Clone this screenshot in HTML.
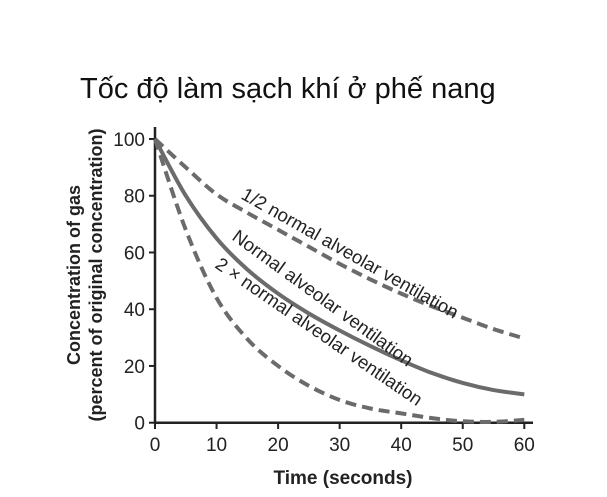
<!DOCTYPE html>
<html><head><meta charset="utf-8"><style>
body{margin:0;background:#fff;}
svg{display:block;font-family:"Liberation Sans",Arial,sans-serif;}
</style></head><body>
<svg id="c" width="607" height="497">
<text x="80" y="98" font-size="29" fill="#111">Tốc độ làm sạch khí ở phế nang</text>
</svg>
<script>
const times=[0,5,10,15,20,25,30,35,40,45,50,55,60];
const halfVent=[100,90,80.5,74,68,62,56,50.5,45.5,41,37,33,29.7];
const normalVent=[100,80,65,54,45.5,38.5,32.5,27,22,17.5,14,11.5,10];
const doubleVent=[100,68,44,29.5,20,13,8,5,3.3,1.6,0.5,0.3,1];
const xTicks=[0,10,20,30,40,50,60];
const yTicks=[0,20,40,60,80,100];
const NS='http://www.w3.org/2000/svg';
const svg=document.getElementById('c');
const X=v=>155+v*(369.3/60);
const Y=v=>422.7-v*(283.7/100);
function el(t,a,p){const e=document.createElementNS(NS,t);for(const k in a)e.setAttribute(k,a[k]);(p||svg).appendChild(e);return e;}
const ax=el('path',{d:`M155 127 V422.7 H533`,stroke:'#222','stroke-width':2.5,fill:'none'});


xTicks.forEach(t=>{
  const l=el('line',{x1:X(t),x2:X(t),y1:422.7,y2:429,stroke:'#222','stroke-width':2});
  
  
  const tx=el('text',{x:X(t),y:451,'font-size':19,'text-anchor':'middle',fill:'#222'});
  tx.textContent=t;
  
  
});
yTicks.forEach(t=>{
  const l=el('line',{x1:149,x2:155,y1:Y(t),y2:Y(t),stroke:'#222','stroke-width':2});
  
  
  const tx=el('text',{x:145,y:Y(t)+7,'font-size':19,'text-anchor':'end',fill:'#222'});
  tx.textContent=t;
  
  
});
function curve(vals,dash,name){
  const pts=times.map((t,i)=>[X(t),Y(vals[i])]);
  let d=`M${pts[0][0]},${pts[0][1]}`;
  for(let i=0;i<pts.length-1;i++){
    const p0=pts[i-1]||pts[i],p1=pts[i],p2=pts[i+1],p3=pts[i+2]||p2;
    const c1=[p1[0]+(p2[0]-p0[0])/6,p1[1]+(p2[1]-p0[1])/6];
    const c2=[p2[0]-(p3[0]-p1[0])/6,p2[1]-(p3[1]-p1[1])/6];
    d+=` C${c1[0]},${c1[1]} ${c2[0]},${c2[1]} ${p2[0]},${p2[1]}`;
  }
  const p=el('path',{d,stroke:'#6b6b6b','stroke-width':4,fill:'none'});
  if(dash)p.setAttribute('stroke-dasharray','11 6');
  
  
}
curve(halfVent,true,'half-ventilation-curve');
curve(normalVent,false,'normal-ventilation-curve');
curve(doubleVent,true,'double-ventilation-curve');
function lbl(x,y,a,s,name){
  const t=el('text',{x,y,'font-size':18.5,fill:'#222',transform:`rotate(${a} ${x} ${y})`});
  t.textContent=s;
  
  
}
lbl(240,198,29.5,'1/2 normal alveolar ventilation','half-ventilation-label');
lbl(231,239,36,'Normal alveolar ventilation','normal-ventilation-label');
lbl(214,267,34.5,'2 × normal alveolar ventilation','double-ventilation-label');
const xt=el('text',{x:343,y:484,'font-size':19,'font-weight':'bold','text-anchor':'middle',fill:'#222'});
xt.textContent='Time (seconds)';


const g=el('g',{transform:'translate(80,275) rotate(-90)'});
const y1=el('text',{x:0,y:0,'font-size':18,'font-weight':'bold','text-anchor':'middle',fill:'#222'},g);
y1.textContent='Concentration of gas';


const y2=el('text',{x:0,y:22,'font-size':18,'font-weight':'bold','text-anchor':'middle',fill:'#222'},g);
y2.textContent='(percent of original concentration)';


</script>
</body></html>
